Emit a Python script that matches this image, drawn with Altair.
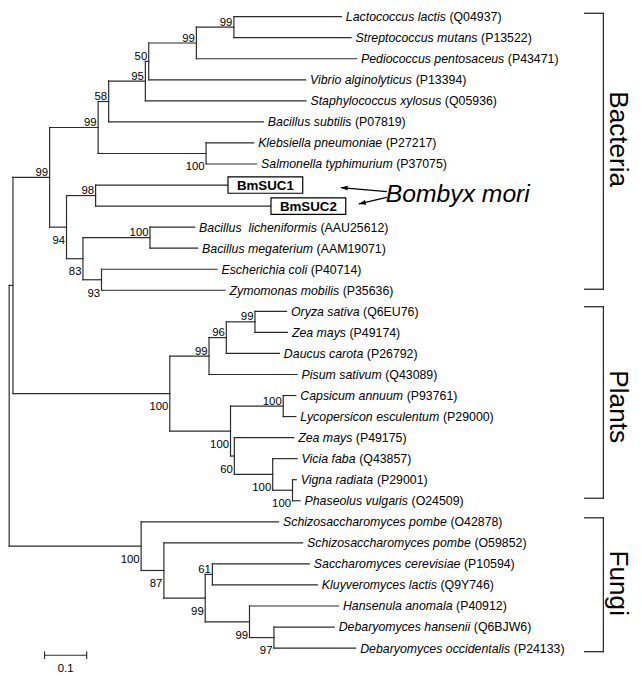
import altair as alt
import pandas as pd

# ---------------- data ----------------
species = [
    "Lactococcus lactis", "Streptococcus mutans", "Pediococcus pentosaceus",
    "Vibrio alginolyticus", "Staphylococcus xylosus", "Bacillus subtilis",
    "Klebsiella pneumoniae", "Salmonella typhimurium", "BmSUC1", "BmSUC2",
    "Bacillus\u00a0\u00a0licheniformis", "Bacillus megaterium", "Escherichia coli",
    "Zymomonas mobilis", "Oryza sativa", "Zea mays", "Daucus carota",
    "Pisum sativum", "Capsicum annuum", "Lycopersicon esculentum", "Zea mays",
    "Vicia faba", "Vigna radiata", "Phaseolus vulgaris",
    "Schizosaccharomyces pombe", "Schizosaccharomyces pombe",
    "Saccharomyces cerevisiae", "Kluyveromyces lactis", "Hansenula anomala",
    "Debaryomyces hansenii", "Debaryomyces occidentalis",
]
accessions = [
    "Q04937", "P13522", "P43471", "P13394", "Q05936", "P07819", "P27217",
    "P37075", "", "", "AAU25612", "AAM19071", "P40714", "P35636", "Q6EU76",
    "P49174", "P26792", "Q43089", "P93761", "P29000", "P49175", "Q43857",
    "P29001", "O24509", "O42878", "O59852", "P10594", "Q9Y746", "P40912",
    "Q6BJW6", "P24133",
]
boxed = ["BmSUC1", "BmSUC2"]
# distance of each tip from the root (substitutions per site)
tip_depth = [
    0.806, 0.829, 0.842, 0.721, 0.722, 0.621, 0.598, 0.605, 0.537, 0.639,
    0.458, 0.465, 0.511, 0.530, 0.676, 0.678, 0.659, 0.701, 0.698, 0.698,
    0.693, 0.701, 0.699, 0.708, 0.657, 0.714, 0.730, 0.749, 0.799, 0.789,
    0.840,
]

# internal nodes (children listed before parents)
node_id = ["LS", "LSP", "n50", "n95", "n58", "KS", "n99u", "n98", "BlBm", "EZ",
           "n83", "n94", "Bact", "OZ", "p96", "p99", "CL", "VP", "Vic", "p60",
           "L100", "Plants", "BP", "f97", "fH", "f61", "f99", "f87", "Fungi",
           "root"]
node_children = [
    [0, 1], ["LS", 2], ["LSP", 3], ["n50", 4], ["n95", 5], [6, 7],
    ["n58", "KS"], [8, 9], [10, 11], [12, 13], ["BlBm", "EZ"], ["n98", "n83"],
    ["n99u", "n94"], [14, 15], ["OZ", 16], ["p96", 17], [18, 19], [22, 23],
    [21, "VP"], [20, "Vic"], ["CL", "p60"], ["p99", "L100"], ["Bact", "Plants"],
    [29, 30], [28, "f97"], [26, 27], ["f61", "fH"], [25, "f99"], [24, "f87"],
    ["BP", "Fungi"],
]
node_depth = [
    0.551, 0.462, 0.349, 0.341, 0.254, 0.485, 0.229, 0.223, 0.352, 0.237,
    0.193, 0.154, 0.114, 0.601, 0.533, 0.492, 0.668, 0.690, 0.643, 0.552,
    0.543, 0.399, 0.027, 0.646, 0.588, 0.500, 0.483, 0.385, 0.331, 0.018,
]
node_support = [
    99, 99, 50, 95, 58, 100, 99, 98, 100, 93,
    83, 94, 99, 99, 96, 99, 100, 100, 100, 60,
    100, 100, None, 97, 99, 61, 99, 87, 100, None,
]
node_label_side = [
    "above", "above", "above", "above", "above", "below", "above", "above",
    "above", "below", "below", "below", "above", "above", "above", "above",
    "above", "below", "below", "below", "below", "below", None, "below",
    "below", "above", "below", "below", "below", None,
]

groups = ["Bacteria", "Plants", "Fungi"]
group_top = [-0.16, 13.78, 23.81]
group_bottom = [12.95, 22.88, 30.17]
group_label_pos = [5.82, 18.53, 26.92]

scale_bar_value = 0.1
annotation = "Bombyx mori"

# ---------------- layout helpers ----------------
PX = 1.0 / 427.0          # one pixel in branch-length units
W, H = 634, 668
ROW = 21.317              # pixels per tip row
Y0 = 4.5                  # plot-pixel position of the first tip
x_dom = [6.5 * PX, 6.5 * PX + W * PX]
y_dom = [-Y0 / ROW, (H - Y0) / ROW]
xs = alt.Scale(domain=x_dom, nice=False, zero=False)
ys = alt.Scale(domain=y_dom, nice=False, zero=False, reverse=True)
FONT = "Liberation Sans"

AW = {' ': 278, '\u00a0': 278, '(': 333, ')': 333}
for c, w in zip("0123456789", [556] * 10):
    AW[c] = w
for c, w in zip("abcdefghijklmnopqrstuvwxyz",
                [556, 556, 500, 556, 556, 278, 556, 556, 222, 222, 500, 222, 833,
                 556, 556, 556, 556, 333, 500, 278, 556, 500, 722, 500, 500, 500]):
    AW[c] = w
for c, w in zip("ABCDEFGHIJKLMNOPQRSTUVWXYZ",
                [667, 667, 722, 722, 667, 611, 778, 722, 278, 500, 667, 556, 833,
                 722, 778, 667, 778, 722, 667, 611, 722, 667, 944, 667, 667, 611]):
    AW[c] = w


def text_w(s, size):
    return sum(AW.get(c, 556) for c in s) * size / 1000.0


def X(f):
    return alt.X(f, type="quantitative", scale=xs, axis=None)


def Y(f):
    return alt.Y(f, type="quantitative", scale=ys, axis=None)


# ---------------- tree geometry ----------------
y_of = {i: float(i) for i in range(len(species))}
d_of = {i: tip_depth[i] for i in range(len(species))}
segs = []
for nid, ch, dep in zip(node_id, node_children, node_depth):
    cy = [y_of[c] for c in ch]
    y_of[nid] = sum(cy) / 2.0
    d_of[nid] = dep
    segs.append(dict(x=dep, x2=dep, y=min(cy), y2=max(cy)))
    for c in ch:
        segs.append(dict(x=dep, x2=d_of[c], y=y_of[c], y2=y_of[c]))
seg_df = pd.DataFrame(segs)

LEAF_FS = 12.5
GAP = 4.5
leaf_rows = []
box_rows = []
for i, (sp, acc) in enumerate(zip(species, accessions)):
    if sp in boxed:
        box_rows.append(dict(name=sp, x=tip_depth[i],
                             x2=tip_depth[i] + 75.7 * PX,
                             xc=tip_depth[i] + 37.85 * PX,
                             y=i - 0.39, y2=i + 0.39, yc=i))
    else:
        off = GAP + text_w(sp + " ", LEAF_FS)
        leaf_rows.append(dict(sp=sp, acc="(" + acc + ")", x=tip_depth[i],
                              xa=tip_depth[i] + off * PX, y=i))
leaf_df = pd.DataFrame(leaf_rows)
box_df = pd.DataFrame(box_rows)

boot_df = pd.DataFrame([
    dict(x=node_depth[k], y=y_of[node_id[k]], v=str(node_support[k]),
         side=node_label_side[k])
    for k in range(len(node_id)) if node_support[k] is not None
])

BR_X = (611 - 1.5) * PX
TICK_X = (592 - 1.5) * PX
LAB_X = (617.5 - 1.5) * PX
br = []
for t, b in zip(group_top, group_bottom):
    br.append(dict(x=BR_X, x2=BR_X, y=t, y2=b))
    br.append(dict(x=TICK_X, x2=BR_X, y=t, y2=t))
    br.append(dict(x=TICK_X, x2=BR_X, y=b, y2=b))
br_df = pd.DataFrame(br)
grp_df = pd.DataFrame(dict(g=groups, y=group_label_pos, x=[LAB_X] * 3))

# scale bar
sb_x0 = (45 - 1.5) * PX
sb_y = 30.34
sb_df = pd.DataFrame([
    dict(x=sb_x0, x2=sb_x0 + scale_bar_value, y=sb_y, y2=sb_y),
    dict(x=sb_x0, x2=sb_x0, y=sb_y - 0.18, y2=sb_y + 0.18),
    dict(x=sb_x0 + scale_bar_value, x2=sb_x0 + scale_bar_value,
         y=sb_y - 0.18, y2=sb_y + 0.18),
])
sb_lab = pd.DataFrame([dict(x=sb_x0 + scale_bar_value / 2, y=30.70,
                            t=str(scale_bar_value))])

# Bombyx mori annotation and arrows
ann_df = pd.DataFrame([dict(x=(390.7 - 1.5) * PX, y=8.79, t=annotation)])
arrow_df = pd.DataFrame([
    dict(x=(391.7 - 1.5) * PX, y=8.308, x2=(345 - 1.5) * PX, y2=8.121, ang=184.9),
    dict(x=(391.7 - 1.5) * PX, y=8.587, x2=(363.3 - 1.5) * PX, y2=8.895, ang=166.9),
])

LINE = "#2b2b2b"

tree = alt.Chart(seg_df).mark_rule(color=LINE, strokeWidth=1.2, strokeCap="square").encode(
    x=X("x"), x2="x2", y=Y("y"), y2="y2")

sp_text = alt.Chart(leaf_df).mark_text(
    font=FONT, fontSize=LEAF_FS, fontStyle="italic", align="left",
    baseline="alphabetic", dx=GAP, dy=4.5, color="black").encode(
    x=X("x"), y=Y("y"), text="sp:N")
acc_text = alt.Chart(leaf_df).mark_text(
    font=FONT, fontSize=LEAF_FS, align="left", baseline="alphabetic",
    dy=4.5, color="black").encode(x=X("xa"), y=Y("y"), text="acc:N")

boxes = alt.Chart(box_df).mark_rect(fill="white", stroke="black", strokeWidth=1.2).encode(
    x=X("x"), x2="x2", y=Y("y"), y2="y2")
box_text = alt.Chart(box_df).mark_text(
    font=FONT, fontSize=13.5, fontWeight="bold", align="center",
    baseline="alphabetic", dy=4.8, color="black").encode(
    x=X("xc"), y=Y("yc"), text="name:N")

boot_above = alt.Chart(boot_df).transform_filter(alt.datum.side == "above").mark_text(
    font=FONT, fontSize=11.5, align="right", baseline="alphabetic",
    dx=-1.5, dy=-1.4, color="black").encode(x=X("x"), y=Y("y"), text="v:N")
boot_below = alt.Chart(boot_df).transform_filter(alt.datum.side == "below").mark_text(
    font=FONT, fontSize=11.5, align="right", baseline="alphabetic",
    dx=-1.5, dy=17, color="black").encode(x=X("x"), y=Y("y"), text="v:N")

brackets = alt.Chart(br_df).mark_rule(color=LINE, strokeWidth=1.3, strokeCap="square").encode(
    x=X("x"), x2="x2", y=Y("y"), y2="y2")
grp_text = alt.Chart(grp_df).mark_text(
    font=FONT, fontSize=26.5, angle=90, align="center", baseline="alphabetic",
    color="black").encode(x=X("x"), y=Y("y"), text="g:N")

sb = alt.Chart(sb_df).mark_rule(color=LINE, strokeWidth=1.2).encode(
    x=X("x"), x2="x2", y=Y("y"), y2="y2")
sb_text = alt.Chart(sb_lab).mark_text(
    font=FONT, fontSize=11.5, align="center", baseline="top", color="black").encode(
    x=X("x"), y=Y("y"), text="t:N")

ann = alt.Chart(ann_df).mark_text(
    font=FONT, fontSize=25, fontStyle="italic", align="left",
    baseline="alphabetic", color="black").encode(x=X("x"), y=Y("y"), text="t:N")
arrow_lines = alt.Chart(arrow_df).mark_rule(color="black", strokeWidth=1.3).encode(
    x=X("x"), x2="x2", y=Y("y"), y2="y2")
arrow_heads = alt.Chart(arrow_df).mark_point(
    shape="M 0 0 L -2 -0.7 L -2 0.7 Z", filled=True, size=49, color="black",
    opacity=1).encode(x=X("x2"), y=Y("y2"), angle=alt.Angle("ang:Q", scale=None))

chart = alt.layer(
    tree, boxes, box_text, sp_text, acc_text, boot_above, boot_below,
    brackets, grp_text, sb, sb_text, arrow_lines, arrow_heads, ann,
).properties(
    width=W, height=H, autosize="none", padding=0,
).configure_view(stroke=None)

chart.save("out.html", embed_options={"renderer": "svg", "actions": False})
